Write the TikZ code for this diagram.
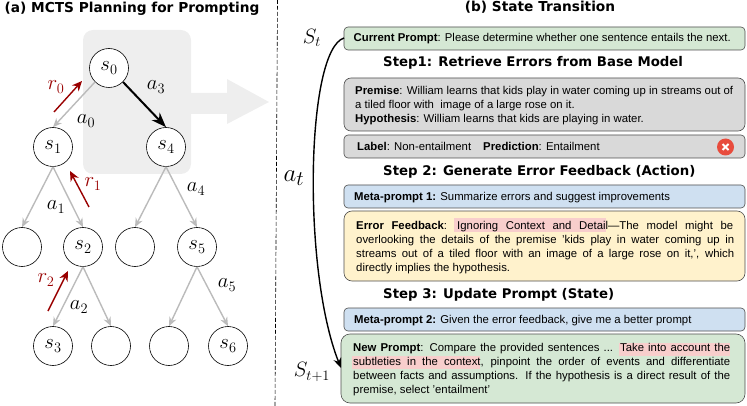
\documentclass[tikz,border=0pt]{standalone}
\usepackage{fontspec}
\setmainfont{Liberation Sans}
\newfontfamily\headfont{DejaVu Sans}
\usetikzlibrary{arrows.meta}
\definecolor{panelgray}{HTML}{EEEEEE}
\definecolor{edgegray}{HTML}{BBBBBB}
\definecolor{rewardred}{HTML}{990000}
\definecolor{boxgreen}{HTML}{D5E8D4}
\definecolor{boxgray}{HTML}{D9D9D9}
\definecolor{boxblue}{HTML}{CFE0F1}
\definecolor{boxyellow}{HTML}{FFF2CC}
\definecolor{hilite}{HTML}{F8CECC}
\definecolor{boxline}{HTML}{4D4D4D}
\definecolor{iconred}{HTML}{E84C3D}
\tikzset{
  statenode/.style={circle,draw=black,line width=0.6pt,fill=white,minimum size=39pt,inner sep=0pt,font=\fontsize{20.74}{21}\selectfont},
  gedge/.style={draw=edgegray,line width=1.4pt,-{Stealth[length=9pt,width=7.5pt]}},
  bedge/.style={draw=black,line width=2pt,-{Stealth[length=15pt,width=11pt]}},
  redarrow/.style={draw=rewardred,line width=1.4pt,-{Stealth[length=10pt,width=9pt]}},
  mathlabel/.style={inner sep=0pt,font=\fontsize{20.74}{21}\selectfont},
  redlabel/.style={inner sep=0pt,text=rewardred,font=\fontsize{20.74}{21}\selectfont},
  bigmath/.style={inner sep=0pt,font=\fontsize{20.74}{21}\selectfont},
  card/.style={draw=boxline,line width=0.6pt,rounded corners=#1},
  card/.default=4pt,
  txt/.style={anchor=base west,inner sep=0pt,font=\fontsize{11.35}{12}\selectfont},
  head/.style={inner sep=0pt,font=\headfont\bfseries\fontsize{13.3}{15}\selectfont},
  title/.style={inner sep=0pt,font=\headfont\bfseries\fontsize{13.7}{15}\selectfont},
  hilit/.style={fill=hilite,draw=none},
}
\begin{document}
\begin{tikzpicture}[x=1pt,y=-1pt]
\useasboundingbox (0,0) rectangle (747,406);
% panel and big arrow
\fill[panelgray,rounded corners=10pt] (83,30) rectangle (191,174);
\fill[panelgray] (178,93) -- (227,93) -- (227,79) -- (269,102) -- (227,124) -- (227,114) -- (178,114) -- cycle;
% titles
\node[title] (ta) at (132,9) {(a) MCTS Planning for Prompting};
\node[title] (tb) at (540,7) {(b) State Transition};
% divider
\coordinate (dtop) at (277.5,0);
\coordinate (dbot) at (275,406);
\draw[dashed,line width=0.6pt,dash pattern=on 4pt off 2pt] (dtop) -- (dbot);
% tree
\node[statenode] (s0) at (109,68) {$s_0$};
\node[statenode] (s1) at (53,147) {$s_1$};
\node[statenode] (s4) at (166,147) {$s_4$};
\node[statenode] (b1) at (22,247) {};
\node[statenode] (s2) at (83,247) {$s_2$};
\node[statenode] (b2) at (135,247) {};
\node[statenode] (s5) at (197,247) {$s_5$};
\node[statenode] (s3) at (53,346) {$s_3$};
\node[statenode] (b3) at (111,346) {};
\node[statenode] (b4) at (169,346) {};
\node[statenode] (s6) at (228,346) {$s_6$};
\draw[gedge] (s0.225) -- (s1.north);
\draw[bedge] (s0.-45) -- (s4.north);
\draw[gedge] (s1.south) -- (b1.north);
\draw[gedge] (s1.south) -- (s2.north);
\draw[gedge] (s4.south) -- (b2.north);
\draw[gedge] (s4.south) -- (s5.north);
\draw[gedge] (s2.south) -- (s3.north);
\draw[gedge] (s2.south) -- (b3.north);
\draw[gedge] (s5.south) -- (b4.north);
\draw[gedge] (s5.south) -- (s6.north);
% rewards
\coordinate (r0a) at (54,112); \coordinate (r0b) at (82,81);
\coordinate (r1a) at (89,207); \coordinate (r1b) at (70,171);
\coordinate (r2a) at (48,311); \coordinate (r2b) at (68,271);
\draw[redarrow] (r0a) -- (r0b);
\draw[redarrow] (r1a) -- (r1b);
\draw[redarrow] (r2a) -- (r2b);
\node[redlabel] (lr0) at (56,87) {$r_0$};
\node[redlabel] (lr1) at (93,184) {$r_1$};
\node[redlabel] (lr2) at (46,280) {$r_2$};
\node[mathlabel] (la0) at (86,121) {$a_0$};
\node[mathlabel] (la1) at (56,207) {$a_1$};
\node[mathlabel] (la2) at (79,307) {$a_2$};
\node[mathlabel] (la3) at (156,87) {$a_3$};
\node[mathlabel] (la4) at (196,189) {$a_4$};
\node[mathlabel] (la5) at (227,285) {$a_5$};
% cards
\draw[card,fill=boxgreen] (344,27) rectangle (745,50);
\coordinate (cpw) at (344,38);
\draw[card=7pt,fill=boxgray] (344,78) rectangle (745,131);
\draw[card,fill=boxgray] (344,135) rectangle (745,158);
\draw[card,fill=boxblue] (344,185) rectangle (745,208);
\draw[card=8pt,fill=boxyellow] (344,211) rectangle (745,281);
\draw[card,fill=boxblue] (344,308) rectangle (745,331);
\draw[card=9pt,fill=boxgreen] (341,334) rectangle (745,403);
\coordinate (npw) at (341,368);
% highlights
\fill[hilit] (454,218) rectangle (606,232);
\fill[hilit] (619,343) rectangle (730,356);
\fill[hilit] (352,356) rectangle (480,369);
% headings
\node[head,anchor=west] (st1) at (383,63) {Step1: Retrieve Errors from Base Model};
\node[head,anchor=west] (st2) at (383,172) {Step 2: Generate Error Feedback (Action)};
\node[head,anchor=west] (st3) at (383,295) {Step 3: Update Prompt (State)};
% texts
\node[txt] (t1) at (353.5,42) {\textbf{Current Prompt}: Please determine whether one sentence entails the next.};
\node[txt] (t2) at (355,94.5) {\makebox[378pt][s]{\textbf{Premise}: William learns that kids play in water coming up in streams out of}};
\node[txt] (t3) at (355,108.5) {a tiled floor with\ \ image of a large rose on it.};
\node[txt] (t4) at (355,122.5) {\textbf{Hypothesis}: William learns that kids are playing in water.};
\node[txt] (t5) at (357,150.5) {\textbf{Label}: Non-entailment};
\node[txt] (t6) at (483,150.5) {\textbf{Prediction}: Entailment};
\node[txt] (t7) at (354,200.5) {\textbf{Meta-prompt 1:} Summarize errors and suggest improvements};
\node[txt] (t8) at (356,229.5) {\makebox[377pt][s]{\textbf{Error Feedback}:\hspace{-3pt} Ignoring Context and Detail---The model might be}};
\node[txt] (t9) at (356,243.5) {\makebox[378pt][s]{overlooking the details of the premise 'kids play in water coming up in}};
\node[txt] (t10) at (356,257.5) {\makebox[378pt][s]{streams out of a tiled floor with an image of a large rose on it,', which}};
\node[txt] (t11) at (356,271) {directly implies the hypothesis.};
\node[txt] (t12) at (354,323.5) {\textbf{Meta-prompt 2:} Given the error feedback, give me a better prompt};
\node[txt] (t13) at (353,351.5) {\makebox[377pt][s]{\textbf{New Prompt}: Compare the provided sentences ... Take into account the}};
\node[txt] (t14) at (353,365.5) {\makebox[377pt][s]{subtleties in the context, pinpoint the order of events and differentiate}};
\node[txt] (t15) at (353,379.5) {\makebox[377pt][s]{between facts and assumptions. If the hypothesis is a direct result of the}};
\node[txt] (t16) at (353,393.5) {premise, select 'entailment'};
% error icon
\node[circle,fill=iconred,minimum size=17pt,inner sep=0pt] (xi) at (725.5,147) {};
\draw[white,line width=1.8pt] ([shift={(-3,-3)}]xi.center) -- ([shift={(3,3)}]xi.center);
\draw[white,line width=1.8pt] ([shift={(-3,3)}]xi.center) -- ([shift={(3,-3)}]xi.center);
% transition
\node[bigmath] (St) at (312,38) {$S_t$};
\node[bigmath,font=\fontsize{24.88}{25}\selectfont] (at) at (294,178) {$a_t$};
\node[bigmath] (St1) at (312,372) {$S_{t+1}$};
\draw[line width=1.4pt,-{Stealth[length=10pt,width=8pt]}] (cpw) .. controls (306,50) and (302,270) .. (npw);
\end{tikzpicture}
\end{document}
